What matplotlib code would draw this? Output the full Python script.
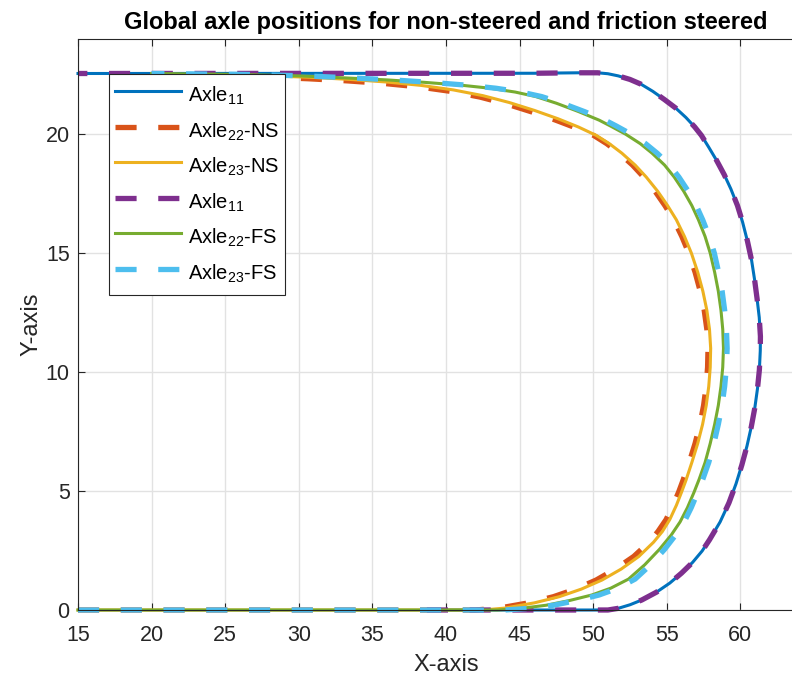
import matplotlib
matplotlib.use('Agg')
import matplotlib.pyplot as plt

plt.rcParams['font.family'] = ['Liberation Sans', 'DejaVu Sans']
plt.rcParams['mathtext.fontset'] = 'custom'
plt.rcParams['mathtext.rm'] = 'Liberation Sans'
plt.rcParams['mathtext.it'] = 'Liberation Sans:italic'
plt.rcParams['mathtext.default'] = 'regular'

# Axle paths (x, y), listed from the start of the manoeuvre (bottom) to the end (top)
axle11_x = [38.7, 45.0, 51.0, 51.7, 52.5, 53.3, 54.3, 55.2, 56.0, 56.75, 57.4, 57.9,
            58.62, 59.22, 59.7, 60.1, 60.45, 60.74, 60.98, 61.16, 61.29, 61.35, 61.36,
            61.28, 61.13, 60.96, 60.76, 60.48, 60.15, 59.8, 59.35, 58.9, 58.38, 57.85,
            57.35, 56.9, 56.3, 55.6, 54.85, 54.05, 53.25, 52.5, 51.7, 51.0, 50.3,
            49.0, 46.0, 15.0]
axle11_y = [0, 0, 0, 0.07, 0.22, 0.42, 0.75, 1.13, 1.55, 2.0, 2.48, 2.95,
            3.7, 4.5, 5.3, 6.1, 6.9, 7.7, 8.5, 9.3, 10.1, 10.9, 11.5,
            12.3, 13.1, 13.9, 14.7, 15.5, 16.3, 17.0, 17.7, 18.3, 18.9, 19.45,
            19.95, 20.3, 20.7, 21.1, 21.45, 21.8, 22.1, 22.3, 22.45, 22.54, 22.58,
            22.58, 22.56, 22.55]

# non-steered trailing axles
axle22_ns_x = [15, 42.0, 43.6, 45.6, 47.3, 48.8, 50.2, 51.5, 52.75, 53.8, 54.4, 54.95, 55.42,
               55.8, 56.1, 56.52, 56.92, 57.25, 57.5, 57.67, 57.77, 57.8, 57.72, 57.54, 57.27,
               56.92, 56.49, 56.02, 55.47, 54.87, 54.2, 53.42, 52.67, 51.77, 50.92, 50.02,
               48.8, 47.4, 45.8, 44.1, 42.3, 40.3, 38.1, 35.8, 33.3, 30.6, 27.3, 20.0]
axle22_ns_y = [0, 0, 0.08, 0.3, 0.56, 0.88, 1.26, 1.72, 2.25, 2.85, 3.3, 3.8, 4.4,
               4.95, 5.45, 6.2, 7.0, 7.8, 8.6, 9.4, 10.2, 11.0, 11.8, 12.6, 13.4,
               14.2, 15.0, 15.7, 16.4, 17.0, 17.6, 18.2, 18.7, 19.2, 19.6, 19.95,
               20.27, 20.6, 20.94, 21.27, 21.56, 21.8, 21.99, 22.13, 22.24, 22.33, 22.41, 22.48]

axle23_ns_x = [15, 42.5, 44.0, 46.0, 47.7, 49.2, 50.6, 51.9, 53.1, 54.1, 54.7, 55.2, 55.65,
               56.0, 56.3, 56.7, 57.1, 57.43, 57.68, 57.85, 57.95, 57.98, 57.9, 57.72, 57.45,
               57.1, 56.67, 56.2, 55.65, 55.05, 54.38, 53.6, 52.85, 51.95, 51.1, 50.2,
               49.0, 47.6, 46.0, 44.3, 42.5, 40.5, 38.3, 36.0, 33.5, 30.8, 27.5, 20.0]
axle23_ns_y = [0, 0, 0.08, 0.3, 0.56, 0.88, 1.26, 1.72, 2.25, 2.85, 3.3, 3.8, 4.4,
               4.95, 5.45, 6.2, 7.0, 7.8, 8.6, 9.4, 10.2, 11.0, 11.8, 12.6, 13.4,
               14.2, 15.0, 15.7, 16.4, 17.0, 17.6, 18.2, 18.7, 19.2, 19.6, 19.95,
               20.3, 20.65, 21.0, 21.33, 21.62, 21.86, 22.05, 22.19, 22.3, 22.39, 22.46, 22.52]

# friction steered trailing axles
axle22_fs_x = [15, 43.5, 45.0, 46.8, 48.4, 49.9, 51.2, 52.4, 53.5, 54.5, 55.3, 55.9, 56.4,
               56.85, 57.2, 57.6, 57.95, 58.25, 58.5, 58.68, 58.8, 58.85, 58.8, 58.68, 58.5,
               58.25, 57.95, 57.6, 57.15, 56.7, 56.15, 55.5, 54.85, 54.0, 53.2, 52.2, 51.15,
               50.4, 49.0, 47.5, 46.1, 44.7, 43.0, 41.0, 38.5, 36.0, 33.0, 30.0, 26.0, 20.0]
axle22_fs_y = [0, 0, 0.06, 0.2, 0.4, 0.63, 0.92, 1.3, 1.9, 2.55, 3.15, 3.7, 4.3,
               4.95, 5.5, 6.2, 7.0, 7.8, 8.6, 9.4, 10.2, 11.0, 11.8, 12.6, 13.4,
               14.2, 15.0, 15.7, 16.4, 17.0, 17.6, 18.2, 18.7, 19.2, 19.6, 20.0, 20.35,
               20.59, 20.95, 21.3, 21.58, 21.77, 21.93, 22.06, 22.18, 22.28, 22.37, 22.45, 22.51, 22.55]

axle23_fs_x = [15, 44.0, 45.5, 47.3, 48.9, 50.4, 51.7, 52.85, 53.9, 54.85, 55.6, 56.18, 56.66,
               57.1, 57.45, 57.85, 58.2, 58.5, 58.75, 58.93, 59.05, 59.1, 59.05, 58.93, 58.76,
               58.52, 58.23, 57.88, 57.44, 57.0, 56.46, 55.82, 55.18, 54.35, 53.56, 52.58, 51.55,
               50.8, 49.4, 47.9, 46.5, 45.1, 43.4, 41.4, 38.9, 36.4, 33.4, 30.4, 26.4, 20.0]
axle23_fs_y = [0, 0, 0.06, 0.2, 0.4, 0.63, 0.92, 1.3, 1.9, 2.55, 3.15, 3.7, 4.3,
               4.95, 5.5, 6.2, 7.0, 7.8, 8.6, 9.4, 10.2, 11.0, 11.8, 12.6, 13.4,
               14.2, 15.0, 15.7, 16.4, 17.0, 17.6, 18.2, 18.7, 19.2, 19.6, 20.0, 20.35,
               20.59, 20.95, 21.3, 21.58, 21.77, 21.93, 22.06, 22.18, 22.28, 22.37, 22.45, 22.51, 22.55]

labels = ['Axle$_{11}$', 'Axle$_{22}$-NS', 'Axle$_{23}$-NS',
          'Axle$_{11}$', 'Axle$_{22}$-FS', 'Axle$_{23}$-FS']

dark = '#262626'
solid_lw = 2.2
dash_lw = 3.8
dash = (0, (4.0, 4.1))

fig = plt.figure(figsize=(7.92, 6.79), dpi=100)
ax = fig.add_axes([78 / 792, 69 / 679, 736 / 792, 571 / 679])

ax.plot(axle11_x, axle11_y, color='#0072BD', lw=solid_lw, label=labels[0], clip_on=False)
ax.plot(axle22_ns_x, axle22_ns_y, color='#D95319', lw=dash_lw, ls=dash, label=labels[1], clip_on=False)
ax.plot(axle23_ns_x, axle23_ns_y, color='#EDB120', lw=solid_lw, label=labels[2], clip_on=False)
ax.plot(axle11_x, axle11_y, color='#7E2F8E', lw=dash_lw, ls=dash, label=labels[3], clip_on=False)
ax.plot(axle22_fs_x, axle22_fs_y, color='#77AC30', lw=solid_lw, label=labels[4], clip_on=False)
ax.plot(axle23_fs_x, axle23_fs_y, color='#4DBEEE', lw=dash_lw, ls=dash, label=labels[5], clip_on=False)

ax.set_xlim(15, 65)
ax.set_ylim(0, 24)
ax.set_xticks(range(15, 65, 5))
ax.set_yticks(range(0, 25, 5))
ax.grid(True, color='#e2e2e2', linewidth=1.0)
ax.set_axisbelow(True)
ax.tick_params(direction='in', length=5, width=0.8, colors=dark, labelsize=15.5,
               top=True, right=True, pad=6)
ax.tick_params(axis='x', pad=10.5)
for side in ['left', 'bottom', 'top', 'right']:
    ax.spines[side].set_color(dark)
    ax.spines[side].set_linewidth(0.8)

ax.set_title('Global axle positions for non-steered and friction steered',
             fontsize=17, fontweight='bold', pad=7)
ax.set_xlabel('X-axis', fontsize=17, color=dark, labelpad=6)
ax.set_ylabel('Y-axis', fontsize=17, color=dark, labelpad=2)

leg = ax.legend(loc='upper left', bbox_to_anchor=(109 / 792, 1 - 74 / 679),
                bbox_transform=fig.transFigure, borderaxespad=0, fontsize=14.5,
                fancybox=False, framealpha=1, edgecolor=dark, handlelength=3.28,
                handleheight=2.0, handletextpad=0.35, borderpad=0.3, labelspacing=0.22)
leg.get_frame().set_linewidth(0.8)

fig.savefig('out.png', dpi=100)
